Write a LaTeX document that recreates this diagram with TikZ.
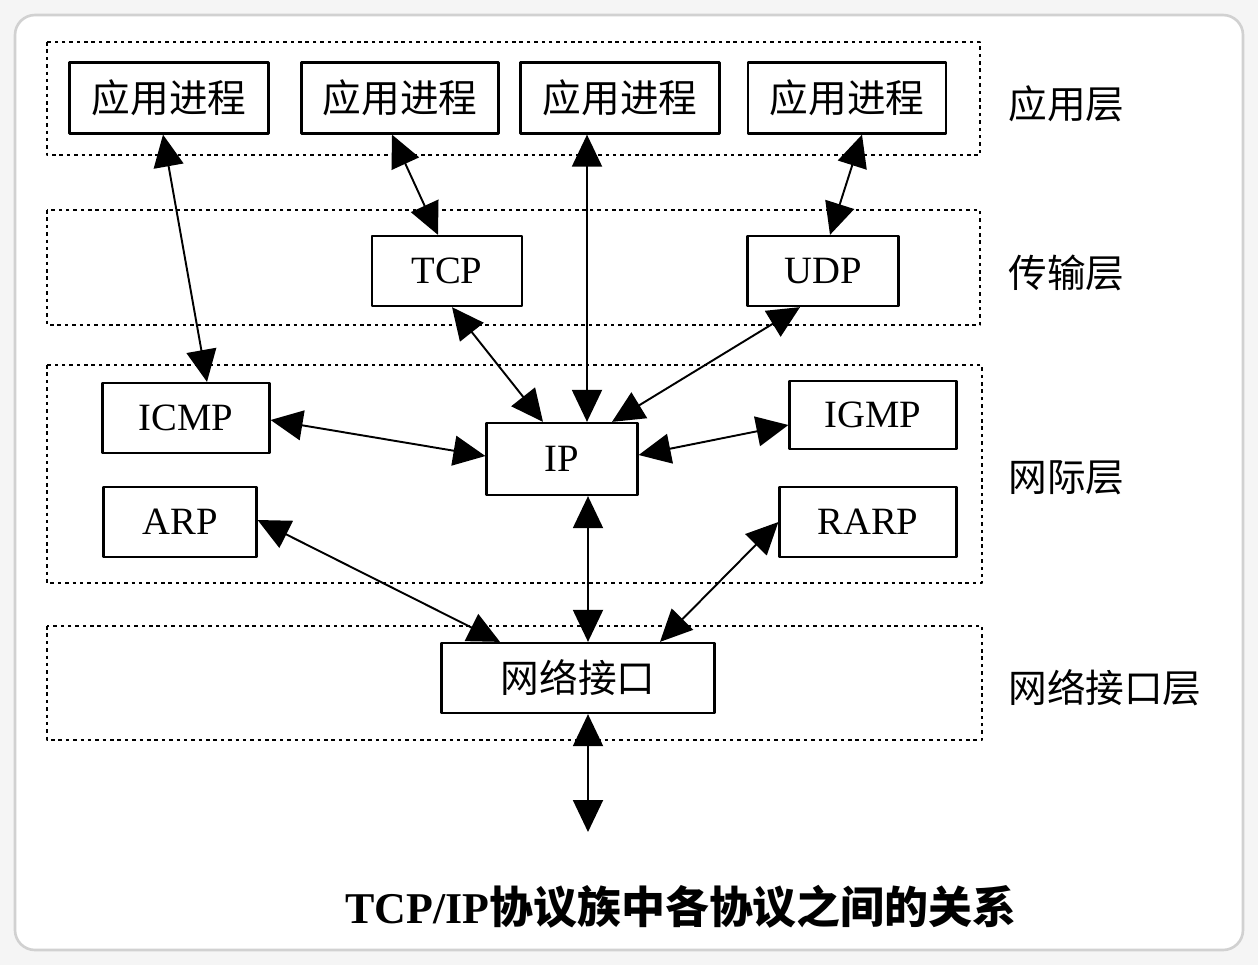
\documentclass[tikz,border=0pt]{standalone}
\usepackage{fontspec}
\setmainfont{Liberation Serif}
\newfontfamily\cjk{Noto Sans CJK SC}
\usetikzlibrary{arrows.meta,calc}

\begin{document}
\begin{tikzpicture}[x=0.02cm, y=-0.02cm, line join=round, >={Triangle[length=0.64cm,width=0.6cm]},
    proc/.style={draw, line width=1.3pt, inner sep=0pt, minimum height=1.4cm, font=\fontsize{22}{24}\selectfont},
    layer/.style={draw, line width=1pt, dash pattern=on 2pt off 2.2pt},
    lbl/.style={anchor=west, inner sep=0pt, font=\fontsize{22}{24}\selectfont\cjk},
    link/.style={<->, line width=1.1pt}]
    \def\bg{black!4}
    \def\rim{black!18}
    % background card
    \fill[\bg] (0,0) rectangle (1258,965);
    \draw[fill=white, draw=\rim, line width=1.5pt, rounded corners=0.4cm] (15,15) rectangle (1243,950);
    % layers
    \draw[layer] (47,42) rectangle (980,155);
    \draw[layer] (47,210) rectangle (980,325);
    \draw[layer] (47,365) rectangle (982,583);
    \draw[layer] (47,626) rectangle (982,740);
    \node[lbl] (lapp) at (1008,104) {应用层};
    \node[lbl] (ltrans) at (1008,273) {传输层};
    \node[lbl] (lnet) at (1008,478) {网际层};
    \node[lbl] (llink) at (1008,688) {网络接口层};
    % protocol boxes
    \node[proc, minimum width=3.98cm, minimum height=1.42cm] (app1) at (169,98) {\cjk 应用进程};
    \node[proc, minimum width=3.94cm, minimum height=1.42cm] (app2) at (400,98) {\cjk 应用进程};
    \node[proc, minimum width=3.98cm, minimum height=1.42cm] (app3) at (620,98) {\cjk 应用进程};
    \node[proc, minimum width=3.96cm, minimum height=1.42cm] (app4) at (847,98) {\cjk 应用进程};
    \node[proc, minimum width=3.0cm] (tcp) at (447,271) {TCP};
    \node[proc, minimum width=3.02cm] (udp) at (823,271) {UDP};
    \node[proc, minimum width=3.34cm] (icmp) at (186,418) {ICMP};
    \node[proc, minimum width=3.02cm, minimum height=1.44cm] (ip) at (562,459) {IP};
    \node[proc, minimum width=3.34cm, minimum height=1.36cm] (igmp) at (873,415) {IGMP};
    \node[proc, minimum width=3.06cm] (arp) at (180,522) {ARP};
    \node[proc, minimum width=3.54cm] (rarp) at (868,522) {RARP};
    \node[proc, minimum width=5.46cm] (nic) at (578,678) {\cjk 网络接口};
    \coordinate (wire) at (588,832);
    % links
    \draw[link] ($(app1.south)+(-6,0)$) -- ($(icmp.north)+(21,0)$);
    \draw[link] ($(app2.south)+(-8,0)$) -- ($(tcp.north)+(-9,0)$);
    \draw[link] ($(app3.south)+(-33,0)$) -- ($(ip.north)+(25,0)$);
    \draw[link] ($(app4.south)+(15,0)$) -- ($(udp.north)+(7,0)$);
    \draw[link] ($(tcp.south)+(5,0)$) -- ($(ip.north)+(-19,0)$);
    \draw[link] ($(udp.south)+(-23,0)$) -- ($(ip.north)+(50,0)$);
    \draw[link] ($(icmp.east)+(0,2)$) -- ($(ip.west)+(0,-3)$);
    \draw[link] ($(igmp.west)+(0,10)$) -- ($(ip.east)+(0,-4)$);
    \draw[link] ($(ip.south)+(26,0)$) -- ($(nic.north)+(10,0)$);
    \draw[link] ($(arp.east)+(0,-2)$) -- ($(nic.north)+(-78,0)$);
    \draw[link] ($(rarp.west)+(0,0)$) -- ($(nic.north)+(82,0)$);
    \draw[link] ($(nic.south)+(10,0)$) -- (wire);
    % caption
    \node[inner sep=0pt, font=\fontsize{25}{27}\selectfont\bfseries] (title) at (681,907) {TCP/IP{\cjk 协议族中各协议之间的关系}};
\end{tikzpicture}
\end{document}
